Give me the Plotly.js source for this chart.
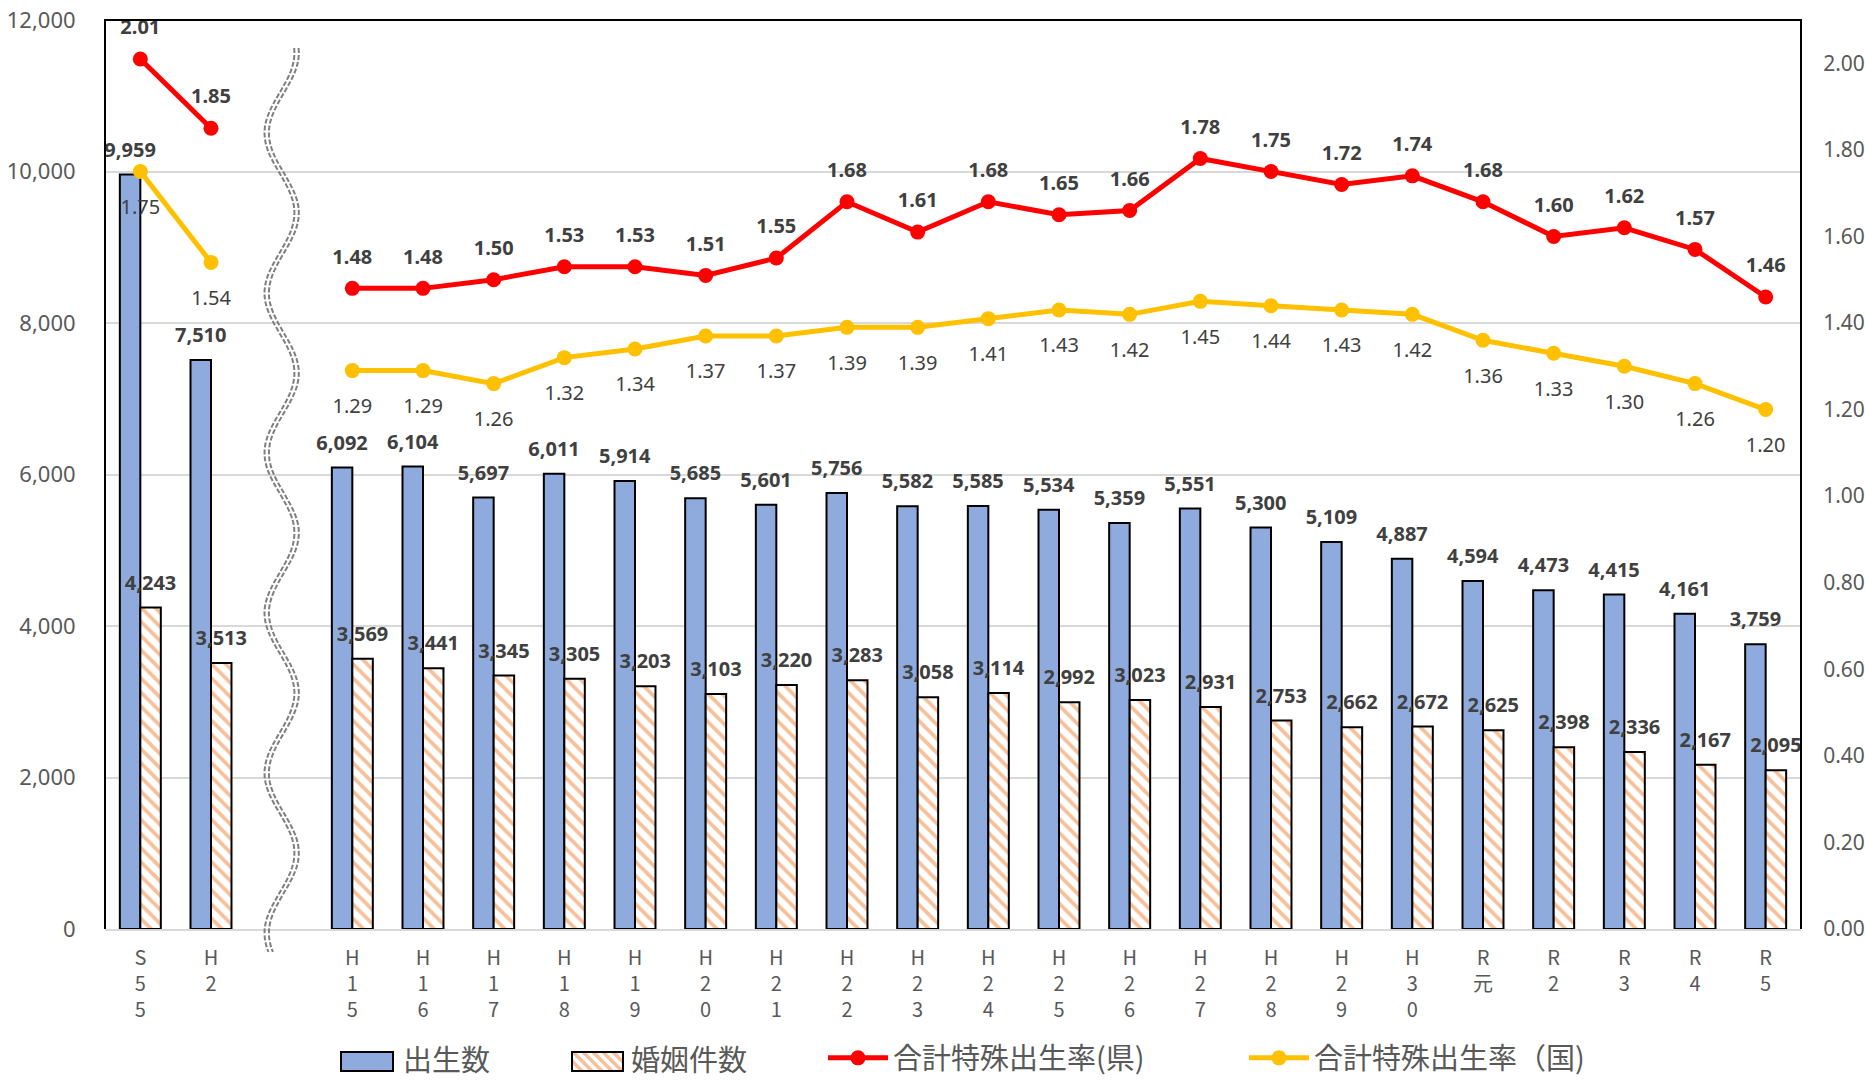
<!DOCTYPE html>
<html>
<head>
<meta charset="utf-8">
<script src="https://cdn.plot.ly/plotly-3.0.1.min.js"></script>
<style>
html,body{margin:0;padding:0;background:#ffffff;}
#chart{width:1865px;height:1081px;}
</style>
</head>
<body>
<div id="chart"></div>
<script>
// ---------------- data ----------------
const categories = ['S55','H2','','H15','H16','H17','H18','H19','H20','H21','H22','H23','H24','H25','H26','H27','H28','H29','H30','R元','R2','R3','R4','R5'];
const births     = [9959,7510,null,6092,6104,5697,6011,5914,5685,5601,5756,5582,5585,5534,5359,5551,5300,5109,4887,4594,4473,4415,4161,3759];
const marriages  = [4243,3513,null,3569,3441,3345,3305,3203,3103,3220,3283,3058,3114,2992,3023,2931,2753,2662,2672,2625,2398,2336,2167,2095];
const tfrPref    = [2.01,1.85,null,1.48,1.48,1.50,1.53,1.53,1.51,1.55,1.68,1.61,1.68,1.65,1.66,1.78,1.75,1.72,1.74,1.68,1.60,1.62,1.57,1.46];
const tfrNation  = [1.75,1.54,null,1.29,1.29,1.26,1.32,1.34,1.37,1.37,1.39,1.39,1.41,1.43,1.42,1.45,1.44,1.43,1.42,1.36,1.33,1.30,1.26,1.20];
const seriesNames = ['出生数','婚姻件数','合計特殊出生率(県)','合計特殊出生率（国)'];
const leftTicks  = [0,2000,4000,6000,8000,10000,12000];
const rightTicks = [0,0.2,0.4,0.6,0.8,1.0,1.2,1.4,1.6,1.8,2.0];

// ---------------- derived ----------------
const xIdx = categories.map((c, i) => i);
const tickText = categories.map(c => Array.from(c).join('<br>'));
const BARGAP = 0.42;
const half = (1 - BARGAP) / 4;
const fmtInt = v => (v === null ? '' : v.toLocaleString('en-US'));
const fmt2 = v => (v === null ? '' : v.toFixed(2));

const NUMFONT = 'Noto Sans, Open Sans, sans-serif';
const JPFONT = 'Noto Sans CJK JP, Noto Sans, sans-serif';
const LABEL = '#404040';
const AXIS = '#595959';
const BLUE = '#8FAADC';
const PEACH = '#F6C09A';

const traces = [
  {
    type: 'bar', x: xIdx, y: births, name: seriesNames[0], showlegend: false,
    marker: {color: BLUE, line: {color: '#000000', width: 2}},
    hoverinfo: 'skip'
  },
  {
    type: 'bar', x: xIdx, y: marriages, name: seriesNames[1], showlegend: false,
    marker: {color: '#FFFFFF', line: {color: '#000000', width: 2},
      pattern: {shape: '\\', fgcolor: PEACH, bgcolor: '#FFFFFF', size: 10, solidity: 0.38, fillmode: 'replace'}},
    hoverinfo: 'skip'
  },
  {
    type: 'scatter', mode: 'lines+markers', x: xIdx, y: tfrPref, yaxis: 'y2', name: seriesNames[2], legend: 'legend',
    line: {color: '#FF0000', width: 5}, marker: {color: '#FF0000', size: 15}, connectgaps: false, hoverinfo: 'skip'
  },
  {
    type: 'scatter', mode: 'lines+markers', x: xIdx, y: tfrNation, yaxis: 'y2', name: seriesNames[3], legend: 'legend2',
    line: {color: '#FFC000', width: 5}, marker: {color: '#FFC000', size: 15}, connectgaps: false, hoverinfo: 'skip'
  },
  // labels
  {
    type: 'scatter', mode: 'markers+text', x: xIdx.map(i => i - half), y: births, text: births.map(fmtInt),
    textposition: 'top center', marker: {size: 19, opacity: 0}, showlegend: false, cliponaxis: false, hoverinfo: 'skip',
    textfont: {family: NUMFONT, size: 20, color: LABEL, weight: 700}
  },
  {
    type: 'scatter', mode: 'markers+text', x: xIdx.map(i => i + half), y: marriages, text: marriages.map(fmtInt),
    textposition: 'top center', marker: {size: 19, opacity: 0}, showlegend: false, cliponaxis: false, hoverinfo: 'skip',
    textfont: {family: NUMFONT, size: 20, color: LABEL, weight: 700}
  },
  {
    type: 'scatter', mode: 'markers+text', x: xIdx, y: tfrPref, yaxis: 'y2', text: tfrPref.map(fmt2),
    textposition: 'top center', marker: {size: 30, opacity: 0}, showlegend: false, cliponaxis: false, hoverinfo: 'skip',
    textfont: {family: NUMFONT, size: 20, color: LABEL, weight: 700}
  },
  {
    type: 'scatter', mode: 'markers+text', x: xIdx, y: tfrNation, yaxis: 'y2', text: tfrNation.map(fmt2),
    textposition: 'bottom center', marker: {size: 42, opacity: 0}, showlegend: false, cliponaxis: false, hoverinfo: 'skip',
    textfont: {family: NUMFONT, size: 20, color: LABEL}
  }
];

// ---------------- geometry helpers ----------------
const W = 1865, H = 1081;
const plotL = 105, plotR = 1801, plotT = 20, plotB = 929;
const catW = (plotR - plotL) / categories.length;
const px2x = px => (px - plotL) / (plotR - plotL);
const py2y = py => (plotB - py) / (plotB - plotT);

// break mark (decoration)
const gapIndex = categories.indexOf('');
function wavePath(offsetPx) {
  let d = '';
  const n = 160;
  for (let k = 0; k <= n; k++) {
    const py = 48 + (952 - 48) * k / n;
    const px = 15 * Math.cos(2 * Math.PI * (py - 213) / 160) + offsetPx;
    const xd = gapIndex + px / catW;
    d += (k === 0 ? 'M' : 'L') + xd.toFixed(4) + ',' + py2y(py).toFixed(4);
  }
  return d;
}
const shapes = [
  {type: 'path', xref: 'x', yref: 'paper', path: wavePath(-2.2), line: {color: '#7F7F7F', width: 2, dash: '5px,2px'}, layer: 'above'},
  {type: 'path', xref: 'x', yref: 'paper', path: wavePath(2.2), line: {color: '#7F7F7F', width: 2, dash: '5px,2px'}, layer: 'above'},
  {type: 'path', xref: 'paper', yref: 'paper', path: 'M0,0L0,1L1,1L1,0', line: {color: '#000000', width: 2}, layer: 'above'}
];

// legend keys for the two bar series (drawn as shapes)
const keyTop = 1052, keyBot = 1071, legendMid = 1058;
const keys = [{x0: 341, x1: 393, text: 402}, {x0: 572, x1: 623, text: 630}];
shapes.push({type: 'rect', xref: 'paper', yref: 'paper', x0: px2x(keys[0].x0), x1: px2x(keys[0].x1),
  y0: py2y(keyBot), y1: py2y(keyTop), fillcolor: BLUE, line: {color: '#000000', width: 2}, layer: 'above'});
shapes.push({type: 'rect', xref: 'paper', yref: 'paper', x0: px2x(keys[1].x0), x1: px2x(keys[1].x1),
  y0: py2y(keyBot), y1: py2y(keyTop), fillcolor: '#FFFFFF', line: {width: 0}, layer: 'above'});
(function hatch() {
  const x0 = keys[1].x0, x1 = keys[1].x1, h = keyBot - keyTop;
  for (let a = x0 - h; a < x1; a += 10) {
    const t0 = Math.max(0, x0 - a), t1 = Math.min(h, x1 - a);
    if (t1 <= t0) continue;
    shapes.push({type: 'line', xref: 'paper', yref: 'paper',
      x0: px2x(a + t0), y0: py2y(keyTop + t0), x1: px2x(a + t1), y1: py2y(keyTop + t1),
      line: {color: PEACH, width: 3.5}, layer: 'above'});
  }
})();
shapes.push({type: 'rect', xref: 'paper', yref: 'paper', x0: px2x(keys[1].x0), x1: px2x(keys[1].x1),
  y0: py2y(keyBot), y1: py2y(keyTop), fillcolor: 'rgba(0,0,0,0)', line: {color: '#000000', width: 2}, layer: 'above'});

const annotations = keys.map((k, i) => ({
  xref: 'paper', yref: 'paper', x: px2x(k.text), y: py2y(legendMid), xanchor: 'left', yanchor: 'middle',
  text: seriesNames[i], showarrow: false, borderpad: 0, font: {family: JPFONT, size: 29, color: AXIS}
}));

function legendAt(px) {
  return {
    x: px2x(px), xanchor: 'left', y: py2y(legendMid), yanchor: 'middle',
    bgcolor: 'rgba(0,0,0,0)', itemwidth: 60,
    font: {family: JPFONT, size: 29, color: AXIS}
  };
}

const layout = {
  width: W, height: H,
  paper_bgcolor: '#FFFFFF', plot_bgcolor: '#FFFFFF',
  margin: {l: plotL, r: W - plotR, t: plotT, b: H - plotB, autoexpand: false},
  barmode: 'group', bargap: BARGAP, bargroupgap: 0,
  showlegend: true,
  legend: legendAt(823),
  legend2: legendAt(1244),
  xaxis: {
    range: [-0.5, categories.length - 0.5], tickmode: 'array', tickvals: xIdx, ticktext: tickText,
    showgrid: false, zeroline: false, showline: true, linecolor: '#D9D9D9', linewidth: 2,
    ticks: 'outside', ticklen: 10, tickcolor: 'rgba(0,0,0,0)', automargin: false,
    tickfont: {family: JPFONT, size: 20, color: AXIS}, fixedrange: true
  },
  yaxis: {
    range: [0, 12000], tickmode: 'array', tickvals: leftTicks, tickformat: ',d',
    showgrid: true, gridcolor: '#D9D9D9', gridwidth: 2, zeroline: false, showline: false,
    ticks: 'outside', ticklen: 24, tickcolor: 'rgba(0,0,0,0)', automargin: false,
    tickfont: {family: NUMFONT, size: 22, color: AXIS}, fixedrange: true
  },
  yaxis2: {
    overlaying: 'y', side: 'right', range: [0, 2.1], tickmode: 'array', tickvals: rightTicks, tickformat: '.2f',
    showgrid: false, zeroline: false, showline: false, automargin: false,
    ticks: 'outside', ticklen: 17, tickcolor: 'rgba(0,0,0,0)',
    tickfont: {family: NUMFONT, size: 21, color: AXIS}, fixedrange: true
  },
  shapes: shapes,
  annotations: annotations
};

Plotly.newPlot('chart', traces, layout, {displayModeBar: false, staticPlot: true});
</script>
</body>
</html>
